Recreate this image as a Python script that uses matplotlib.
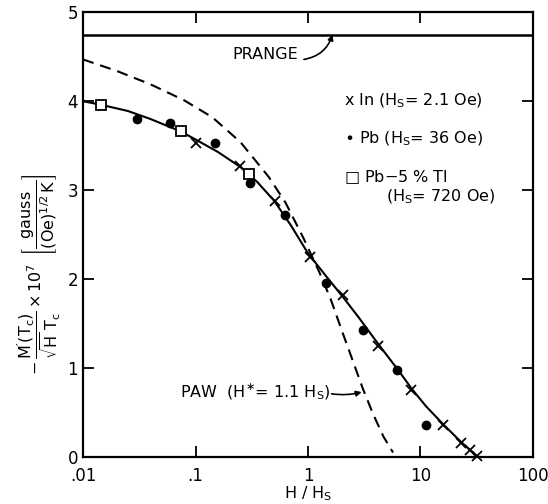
import matplotlib
matplotlib.use("Agg")
import matplotlib.pyplot as plt
from matplotlib.ticker import FixedLocator, FixedFormatter, NullLocator

plt.rcParams['font.family'] = ['DejaVu Sans']
plt.rcParams['mathtext.fontset'] = 'dejavusans'
plt.rcParams['mathtext.default'] = 'regular'
plt.rcParams['lines.scale_dashes'] = False

# data (x = H/Hs, y = -M'(Tc)/(sqrt(H) Tc) x 1e7)
in_x = [0.102, 0.247, 0.508, 1.04, 2.05, 4.23, 8.28, 15.8, 23.1, 27.6, 31.8]
in_y = [3.53, 3.27, 2.88, 2.25, 1.82, 1.25, 0.75, 0.36, 0.16, 0.075, 0.01]

pb_x = [0.0303, 0.0598, 0.1475, 0.306, 0.626, 1.435, 3.11, 6.22, 11.3]
pb_y = [3.80, 3.76, 3.53, 3.08, 2.72, 1.955, 1.43, 0.98, 0.36]

pbtl_x = [0.0145, 0.074, 0.297]
pbtl_y = [3.96, 3.66, 3.18]

# solid curve through the data
fit_x = [0.01, 0.0145, 0.0251, 0.0398, 0.0741, 0.1, 0.158, 0.251, 0.355, 0.501,
         0.708, 1.0, 1.413, 2.04, 2.82, 4.27, 6.31, 8.32, 11.2, 15.85, 22.9, 27.5, 31.6]
fit_y = [4.00, 3.96, 3.89, 3.80, 3.66, 3.57, 3.43, 3.26, 3.09, 2.88,
         2.60, 2.29, 2.05, 1.80, 1.57, 1.26, 0.98, 0.77, 0.57, 0.37, 0.17, 0.08, 0.0]

# PAW theory (dashed)
paw_x = [0.01, 0.02, 0.0398, 0.0794, 0.141, 0.251, 0.447, 0.631, 0.912, 1.259,
         1.585, 2.04, 2.57, 3.09, 3.80, 4.68, 5.70]
paw_y = [4.47, 4.34, 4.19, 4.01, 3.82, 3.54, 3.15, 2.86, 2.46, 2.08,
         1.78, 1.39, 1.04, 0.76, 0.48, 0.23, 0.05]

prange_y = 4.75

x_ticks = [0.01, 0.1, 1, 10, 100]
x_labels = [".01", ".1", "1", "10", "100"]
y_ticks = [0, 1, 2, 3, 4, 5]

fig = plt.figure(figsize=(5.48, 5.04), dpi=100)
ax = fig.add_axes([0.1515, 0.0933, 0.8211, 0.8823])

ax.set_xscale('log')
ax.set_xlim(0.01, 100)
ax.set_ylim(0, 5)

ax.axhline(prange_y, color='black', lw=1.8)
ax.plot(fit_x, fit_y, color='black', lw=1.5)
ax.plot(paw_x, paw_y, color='black', lw=1.5, dashes=(8, 5))

ax.plot(in_x, in_y, ls='none', marker='x', ms=7, mew=1.3, color='black', clip_on=False)
ax.plot(pb_x, pb_y, ls='none', marker='o', ms=6, color='black')
ax.plot(pbtl_x, pbtl_y, ls='none', marker='s', ms=6.5, mew=1.3,
        mfc='white', mec='black')

# labels in the plot
fs = 11.5
ax.text(2.1, 4.0, r"x In (H$_S$= 2.1 Oe)", fontsize=fs, va='center')
ax.text(2.1, 3.58, r"$\bullet$ Pb (H$_S$= 36 Oe)", fontsize=fs, va='center')
ax.text(2.1, 3.15, "\u25a1 Pb$-$5 % Tl", fontsize=fs, va='center')
ax.text(4.9, 2.93, r"(H$_S$= 720 Oe)", fontsize=fs, va='center')

ax.text(0.42, 4.52, "PRANGE", fontsize=fs, ha='center', va='center')
ax.annotate("", xy=(1.65, prange_y), xytext=(0.92, 4.47),
            arrowprops=dict(arrowstyle='-|>', color='black', lw=1.2,
                            mutation_scale=8, shrinkA=0, shrinkB=0,
                            connectionstyle='arc3,rad=0.3'))
ax.text(0.073, 0.73, r"PAW  (H$^{\ast}$= 1.1 H$_S$)", fontsize=fs,
        ha='left', va='center')
ax.annotate("", xy=(3.0, 0.73), xytext=(1.62, 0.71),
            arrowprops=dict(arrowstyle='-|>', color='black', lw=1.2,
                            mutation_scale=8, shrinkA=0, shrinkB=0,
                            connectionstyle='arc3,rad=0.1'))

ax.xaxis.set_major_locator(FixedLocator(x_ticks))
ax.xaxis.set_major_formatter(FixedFormatter(x_labels))
ax.xaxis.set_minor_locator(NullLocator())
ax.set_yticks(y_ticks)
ax.tick_params(which='major', direction='in', length=8, width=1.3,
               top=True, right=True, labelsize=12)
ax.tick_params(axis='x', pad=7)
for sp in ax.spines.values():
    sp.set_linewidth(1.6)

ax.set_xlabel(r"H / H$_S$", fontsize=11.5, labelpad=-0.5)
ax.set_ylabel(r"$-\,\dfrac{M'(T_c)}{\sqrt{H}\;T_c}\,{\times}\,10^7\;\;"
              r"\left[\dfrac{gauss}{(Oe)^{1/2}\,K}\right]$", fontsize=11.5)
ax.yaxis.set_label_coords(-0.045, 0.41)

fig.savefig("out.png", dpi=100)
